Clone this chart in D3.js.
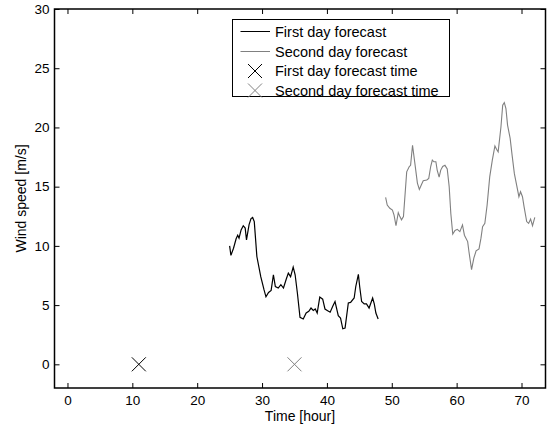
<!DOCTYPE html>
<html><head><meta charset="utf-8">
<script src="https://cdn.jsdelivr.net/npm/d3@7"></script>
<style>body{margin:0;background:#fff}svg{display:block}text{font-family:"Liberation Sans",Arial,sans-serif;}</style>
</head><body><svg id="c" width="552" height="425"></svg>
<script>
const firstDayTime = [25.0,25.2,25.6,26.0,26.25,26.45,26.77,27.1,27.4,27.6,28.0,28.3,28.55,28.8,29.2,29.8,30.3,30.6,31.0,31.4,31.75,32.05,32.5,32.9,33.3,33.7,34.05,34.4,34.8,35.1,35.45,35.85,36.35,36.8,37.2,37.55,37.9,38.2,38.5,38.9,39.35,39.7,40.05,40.5,40.9,41.25,41.75,42.1,42.45,42.8,43.3,43.65,44.2,44.45,44.85,45.05,45.35,45.75,46.1,46.5,47.05,47.3,47.55,47.9];
const firstDayWind = [10.0,9.2,9.8,10.6,10.9,10.65,11.35,11.7,11.5,10.5,11.8,12.3,12.4,12.05,9.1,7.4,6.3,5.7,6.07,6.24,7.56,6.57,6.44,6.72,6.44,7.14,7.7,7.4,8.2,7.56,6.0,3.96,3.83,4.33,4.47,4.75,4.55,4.67,4.33,5.68,5.5,4.67,4.55,4.4,4.9,5.3,4.1,3.9,3.0,3.07,5.18,5.23,5.6,6.57,7.6,6.57,5.3,5.1,5.1,4.75,5.6,5.1,4.33,3.83];
const secondDayTime = [49.05,49.3,49.7,50.1,50.35,50.65,51.0,51.25,51.5,51.8,52.3,52.7,52.9,53.2,53.6,53.95,54.25,54.6,54.85,55.4,55.7,56.0,56.25,56.5,56.8,57.0,57.3,57.55,57.85,58.2,58.55,58.85,59.1,59.4,59.75,60.1,60.5,60.9,61.2,61.7,61.9,62.3,62.65,63.0,63.45,63.75,64.0,64.35,64.7,65.1,65.5,65.9,66.15,66.4,66.83,67.1,67.35,67.6,67.85,68.25,68.55,68.9,69.25,69.6,69.85,70.15,70.4,70.8,71.1,71.4,71.7,72.05];
const secondDayWind = [14.1,13.45,13.17,13.03,12.6,11.7,12.8,12.47,12.2,12.47,16.25,16.7,16.8,18.5,16.8,15.3,14.77,15.2,15.5,15.56,15.7,16.7,17.24,17.1,17.1,16.4,15.8,16.4,16.7,16.8,16.5,15.0,12.75,11.0,11.3,11.4,11.2,11.77,10.9,10.36,9.5,8.0,8.96,9.58,9.75,10.65,11.62,11.9,13.45,15.83,17.24,18.44,18.16,17.94,20.04,21.87,22.1,21.6,20.2,19.07,17.66,16.1,15.13,14.15,14.57,14.15,13.3,12.05,11.9,12.27,11.7,12.4];
const markerTime = [11, 35];
const markerWind = [0, 0];
const xTicks = [0,10,20,30,40,50,60,70];
const yTicks = [0,5,10,15,20,25,30];
const legendLabels = ["First day forecast","Second day forecast","First day forecast time","Second day forecast time"];

const svg = d3.select("#c");
const L=54.5, R=545.5, T=9, B=388;
const x = d3.scaleLinear().domain([-2,73.7]).range([L,R]);
const y = d3.scaleLinear().domain([-2,30]).range([B,T]);
const gray = "#808080";

const line = d3.line().x(d=>x(d[0])).y(d=>y(d[1]));
svg.append("path").datum(firstDayTime.map((t,i)=>[t,firstDayWind[i]]))
  .attr("d",line).attr("fill","none").attr("stroke","#000").attr("stroke-width",1.2);
svg.append("path").datum(secondDayTime.map((t,i)=>[t,secondDayWind[i]]))
  .attr("d",line).attr("fill","none").attr("stroke",gray).attr("stroke-width",1.1);

const mcol = ["#000", gray];
function cross(g, cx, cy, s, col){
  g.append("path").attr("d",`M${cx-s},${cy-s}L${cx+s},${cy+s}M${cx-s},${cy+s}L${cx+s},${cy-s}`)
   .attr("stroke",col).attr("stroke-width",1).attr("fill","none");
}
markerTime.forEach((t,i)=>cross(svg, x(t), y(markerWind[i]), 7, mcol[i]));

const fs = 13.5;
const xb = d3.axisBottom(x).tickValues(xTicks).tickSizeInner(-5).tickSizeOuter(0).tickPadding(7);
svg.append("g").attr("transform",`translate(0,${B})`).call(xb);
const xt = d3.axisTop(x).tickValues(xTicks).tickSizeInner(-5).tickSizeOuter(0).tickFormat("");
svg.append("g").attr("transform",`translate(0,${T})`).call(xt);
const yl = d3.axisLeft(y).tickValues(yTicks).tickSizeInner(-5).tickSizeOuter(0).tickPadding(5);
svg.append("g").attr("transform",`translate(${L},0)`).call(yl);
const yr = d3.axisRight(y).tickValues(yTicks).tickSizeInner(-5).tickSizeOuter(0).tickFormat("");
svg.append("g").attr("transform",`translate(${R},0)`).call(yr);
svg.selectAll(".domain").remove();
svg.selectAll(".tick line").attr("stroke","#000").attr("stroke-width",1);
svg.selectAll(".tick text").attr("font-size",fs).attr("fill","#000").attr("font-family","'Liberation Sans',Arial,sans-serif");
svg.append("rect").attr("x",L).attr("y",T).attr("width",R-L).attr("height",B-T)
  .attr("fill","none").attr("stroke","#000").attr("stroke-width",1.5);

svg.append("text").attr("x",(L+R)/2).attr("y",420.5).attr("text-anchor","middle")
  .attr("font-size",14).text("Time [hour]");
svg.append("text").attr("transform",`translate(26,${(T+B)/2}) rotate(-90)`).attr("text-anchor","middle")
  .attr("font-size",14).text("Wind speed [m/s]");

const lg = svg.append("g");
lg.append("rect").attr("x",232.5).attr("y",19.5).attr("width",217).attr("height",77)
  .attr("fill","#fff").attr("stroke","#000").attr("stroke-width",1);
const rowY = [31.5,51.5,71,90.5];
legendLabels.forEach((lab,i)=>{
  const yy = rowY[i];
  if(i<2){
    lg.append("line").attr("x1",240.5).attr("x2",270).attr("y1",yy).attr("y2",yy)
      .attr("stroke",i===0?"#000":gray).attr("stroke-width",1);
  } else {
    cross(lg, 255, yy, 7, mcol[i-2]);
  }
  lg.append("text").attr("x",275).attr("y",yy+5).attr("font-size",14.5).text(lab);
});
</script></body></html>
